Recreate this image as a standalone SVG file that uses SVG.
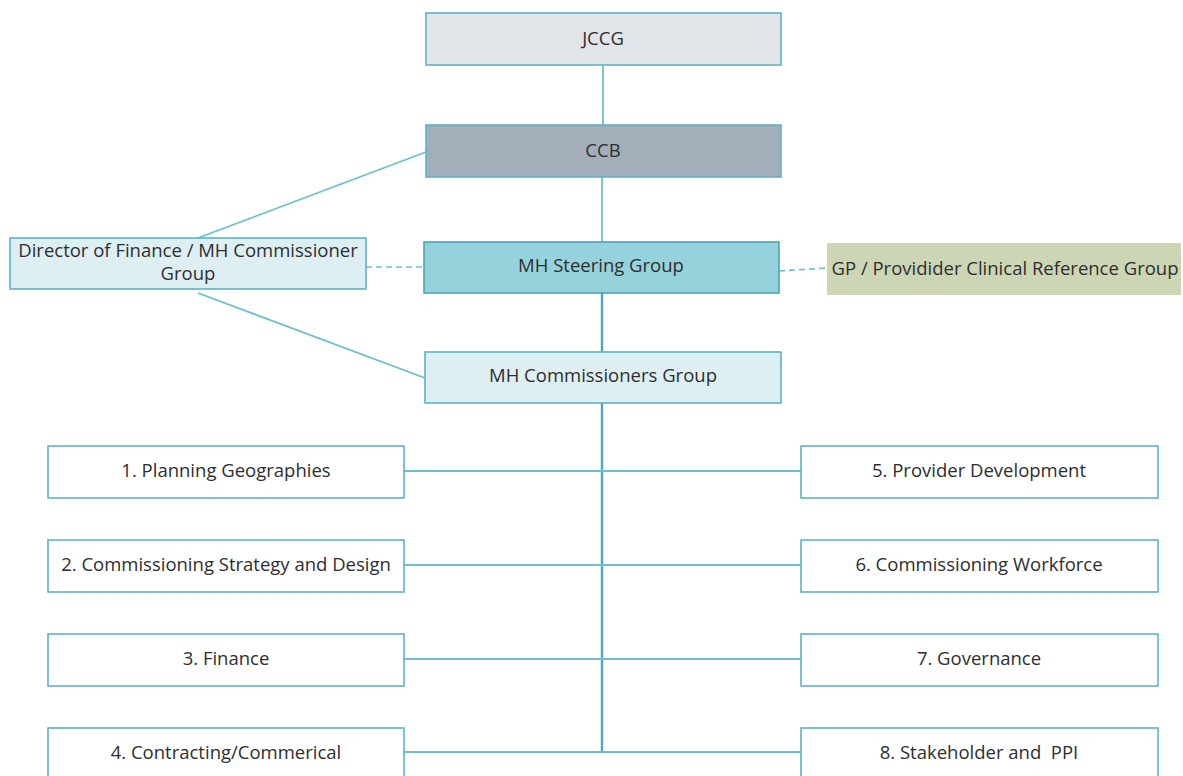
<svg xmlns="http://www.w3.org/2000/svg" width="1183" height="776" viewBox="0 0 1183 776">
  <style>
    .box { stroke: #5db3c3; stroke-width: 1.6; }
    .light { fill: #ddeff3; }
    .white { fill: #ffffff; }
    .lbl { font-family: "Open Sans", "Noto Sans", sans-serif; font-size: 18.5px; fill: #2e2e2e; text-anchor: middle; dominant-baseline: central; white-space: pre; }
    .conn { stroke: #6cbfcc; stroke-width: 1.8; fill: none; }
    .trunk { stroke: #4fa8b6; stroke-width: 2.4; fill: none; }
    .dash { stroke: #6cbfcc; stroke-width: 1.6; stroke-dasharray: 6 4; fill: none; }
  </style>
  <rect width="1183" height="776" fill="#ffffff"/>

  <g id="connectors">
    <line class="conn" x1="603" y1="65" x2="603" y2="125"/>
    <line class="conn" x1="602" y1="177" x2="602" y2="242"/>
    <line class="trunk" x1="602" y1="293" x2="602" y2="753"/>
    <line class="conn" x1="426" y1="152" x2="198" y2="238"/>
    <line class="conn" x1="198" y1="293" x2="425" y2="378"/>
    <line class="dash" x1="366" y1="267" x2="424" y2="267"/>
    <line class="dash" x1="779" y1="271" x2="827" y2="268"/>
    <line class="conn" x1="404" y1="471" x2="801" y2="471"/>
    <line class="conn" x1="404" y1="565" x2="801" y2="565"/>
    <line class="conn" x1="404" y1="659" x2="801" y2="659"/>
    <line class="conn" x1="404" y1="752" x2="801" y2="752"/>
  </g>

  <g id="jccg">
    <rect class="box" x="426" y="13" width="355" height="52" fill="#e1e4e9"/>
    <text class="lbl" x="603" y="37.5">JCCG</text>
  </g>
  <g id="ccb">
    <rect class="box" x="426" y="125" width="355" height="52" fill="#a2aeba"/>
    <text class="lbl" x="603" y="149.5">CCB</text>
  </g>
  <g id="director">
    <rect class="box light" x="10" y="238" width="356" height="51"/>
    <text class="lbl" x="188" y="249.5">Director of Finance / MH Commissioner</text>
    <text class="lbl" x="188" y="272.5">Group</text>
  </g>
  <g id="steering">
    <rect x="424" y="242" width="355" height="51" fill="#96d2dc" stroke="#4aa6b5" stroke-width="1.6"/>
    <text class="lbl" x="601" y="264.5">MH Steering Group</text>
  </g>
  <g id="gp">
    <rect x="827" y="243" width="354" height="52" fill="#cdd6b4"/>
    <text class="lbl" x="1005" y="267.5">GP / Providider Clinical Reference Group</text>
  </g>
  <g id="commissioners">
    <rect class="box light" x="425" y="352" width="356" height="51"/>
    <text class="lbl" x="603" y="374.5">MH Commissioners Group</text>
  </g>

  <g id="n1">
    <rect class="box white" x="48" y="446" width="356" height="52"/>
    <text class="lbl" x="226" y="469.5">1. Planning Geographies</text>
  </g>
  <g id="n2">
    <rect class="box white" x="48" y="540" width="356" height="52"/>
    <text class="lbl" x="226" y="563.5">2. Commissioning Strategy and Design</text>
  </g>
  <g id="n3">
    <rect class="box white" x="48" y="634" width="356" height="52"/>
    <text class="lbl" x="226" y="657.5">3. Finance</text>
  </g>
  <g id="n4">
    <rect class="box white" x="48" y="728" width="356" height="52"/>
    <text class="lbl" x="226" y="751.5">4. Contracting/Commerical</text>
  </g>
  <g id="n5">
    <rect class="box white" x="801" y="446" width="357" height="52"/>
    <text class="lbl" x="979" y="469.5">5. Provider Development</text>
  </g>
  <g id="n6">
    <rect class="box white" x="801" y="540" width="357" height="52"/>
    <text class="lbl" x="979" y="563.5">6. Commissioning Workforce</text>
  </g>
  <g id="n7">
    <rect class="box white" x="801" y="634" width="357" height="52"/>
    <text class="lbl" x="979" y="657.5">7. Governance</text>
  </g>
  <g id="n8">
    <rect class="box white" x="801" y="728" width="357" height="52"/>
    <text class="lbl" x="979" y="751.5">8. Stakeholder and  PPI</text>
  </g>
</svg>
